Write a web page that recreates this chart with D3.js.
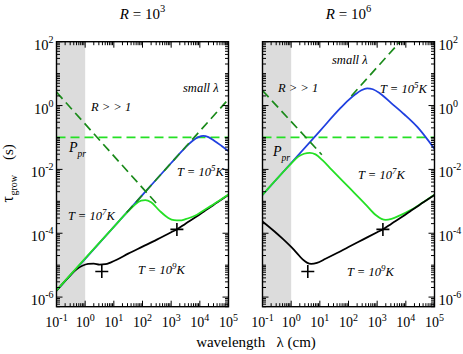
<!DOCTYPE html>
<html><head><meta charset="utf-8">
<script src="https://cdn.jsdelivr.net/npm/d3@7"></script>
<style>
body{margin:0;background:#fff}
svg{display:block}
text{font-family:"Liberation Serif","Times New Roman",serif;fill:#000}
</style>
</head><body>
<svg id="c" width="463" height="354" font-family="Liberation Serif, serif"></svg>
<script>
// ---------- data (log10 values) ----------
const xDomain = [0.1, 1e5];
const yDomain = [5e-7, 100];
const xTickExp = [-1, 0, 1, 2, 3, 4, 5];
const yTickExp = [-6, -4, -2, 0, 2];
const rExponents = ["3", "6"];
const pprTau = 0.1;
const shadeRange = [0.1, 1];

// R = 10^3 panel
const L_T5_logLam = [-1, 0, 1, 2, 3, 3.5, 3.75, 3.95, 4.12, 4.3, 4.5, 4.75, 5];
const L_T5_logTau = [-5.8, -4.8, -3.8, -2.8, -1.8, -1.31, -1.1, -0.99, -0.95, -0.99, -1.1, -1.26, -1.43];
const L_T7_logLam = [-1, 0, 1, 1.5, 1.75, 1.95, 2.1, 2.3, 2.6, 2.9, 3.1, 3.3, 3.5, 3.7, 3.9, 4.2, 4.6, 5];
const L_T7_logTau = [-5.79, -4.79, -3.8, -3.31, -3.09, -2.98, -2.96, -3.03, -3.3, -3.52, -3.59, -3.6, -3.56, -3.5, -3.42, -3.25, -3.02, -2.78];
const L_T9_logLam = [-1, -0.6, -0.3, -0.1, 0.1, 0.3, 0.5, 0.7, 0.9, 1.1, 1.5, 2, 2.5, 3, 3.2, 3.5, 3.9, 4.2, 4.6, 5];
const L_T9_logTau = [-5.8, -5.4, -5.13, -5.02, -4.96, -4.95, -4.98, -4.97, -4.91, -4.83, -4.64, -4.42, -4.2, -3.97, -3.88, -3.7, -3.47, -3.28, -3.04, -2.8];
const L_Rbig_logLam = [-1, 2.54];
const L_Rbig_logTau = [0.42, -3.12];
const L_small_logLam = [1.45, 5];
const L_small_logTau = [-3.35, 0.2];

// R = 10^6 panel
const R_T5_logLam = [-1, 0, 1, 1.7, 2.0, 2.25, 2.45, 2.65, 2.85, 3.1, 3.5, 3.95, 4.4, 5];
const R_T5_logTau = [-2.8, -1.8, -0.8, -0.1, 0.17, 0.36, 0.48, 0.54, 0.51, 0.38, 0.07, -0.28, -0.67, -1.36];
const R_T7_logLam = [-1, -0.5, 0, 0.25, 0.45, 0.65, 0.85, 1.1, 1.4, 2, 2.6, 2.95, 3.15, 3.3, 3.5, 3.8, 4.2, 4.6, 5];
const R_T7_logTau = [-2.8, -2.3, -1.82, -1.6, -1.51, -1.48, -1.53, -1.72, -2.0, -2.55, -3.1, -3.43, -3.55, -3.58, -3.55, -3.44, -3.26, -3.03, -2.79];
const R_T9_logLam = [-1, -0.6, -0.3, 0, 0.2, 0.4, 0.55, 0.7, 0.9, 1.2, 1.6, 2, 2.5, 3, 3.2, 3.5, 3.9, 4.2, 4.6, 5];
const R_T9_logTau = [-3.63, -3.93, -4.17, -4.43, -4.62, -4.82, -4.92, -4.96, -4.93, -4.8, -4.62, -4.43, -4.2, -3.97, -3.88, -3.7, -3.47, -3.28, -3.04, -2.8];
const R_Rbig_logLam = [-1, 1.07];
const R_Rbig_logTau = [0.47, -1.54];
const R_small_logLam = [2.1, 3.9];
const R_small_logTau = [0.3, 2.1];

// "+" markers (same in both panels)
const mark_logLam = [0.58, 3.2];
const mark_logTau = [-5.2, -3.88];

// ---------- drawing ----------
const C = {blue:"#2040e0", green:"#25e025", dark:"#1a8a1a", light:"#25e025", shade:"#dcdcdc"};
const svg = d3.select("#c");
const yTop = 41.7, yBot = 306.7;

function pts(la, ta){ return la.map((v,i)=>[10**v, 10**ta[i]]); }

function drawPanel(cfg){
  const x = d3.scaleLog().domain(xDomain).range([cfg.x0, cfg.x1]);
  const y = d3.scaleLog().domain(yDomain).range([yBot, yTop]);
  const g = svg.append("g");
  const cid = "clip"+cfg.id;
  svg.append("clipPath").attr("id",cid).append("rect")
    .attr("x",cfg.x0).attr("y",yTop).attr("width",cfg.x1-cfg.x0).attr("height",yBot-yTop);
  const pg = g.append("g").attr("clip-path",`url(#${cid})`);
  pg.append("rect").attr("x",x(shadeRange[0])).attr("y",yTop)
    .attr("width",x(shadeRange[1])-x(shadeRange[0])).attr("height",yBot-yTop).attr("fill",C.shade);
  const line = d3.line().x(d=>x(d[0])).y(d=>y(d[1])).curve(d3.curveMonotoneX);
  const straight = d3.line().x(d=>x(d[0])).y(d=>y(d[1]));
  pg.append("path").attr("d",straight([[xDomain[0],pprTau],[xDomain[1],pprTau]]))
    .attr("stroke",C.light).attr("stroke-width",1.7).attr("fill","none").attr("stroke-dasharray","9,5");
  cfg.curves.forEach(c=>{
    pg.append("path").attr("d",line(pts(c.lam,c.tau))).attr("stroke",c.color)
      .attr("stroke-width",1.8).attr("fill","none");
  });
  cfg.dashes.forEach(c=>{
    pg.append("path").attr("d",straight(pts(c.lam,c.tau))).attr("stroke",C.dark)
      .attr("stroke-width",1.7).attr("fill","none").attr("stroke-dasharray","9,5");
  });
  pts(mark_logLam, mark_logTau).forEach(p=>{
    const cx=x(p[0]), cy=y(p[1]), s=6.5;
    g.append("path").attr("d",`M${cx-s},${cy}H${cx+s}M${cx},${cy-s}V${cy+s}`)
      .attr("stroke","#000").attr("stroke-width",1.6);
  });
  const majX = xTickExp.map(e=>10**e);
  const minX = [];
  for(let e=-1;e<5;e++) for(let k=2;k<=9;k++) minX.push(k*10**e);
  const majY = yTickExp.map(e=>10**e);
  const minY = [];
  for(let e=-7;e<2;e++){ for(let k=2;k<=9;k++){const v=k*10**e; if(v>=yDomain[0]&&v<=yDomain[1]) minY.push(v);} }
  [-5,-3,-1,1].forEach(e=>minY.push(10**e));
  const tk = g.append("g").attr("stroke","#000").attr("stroke-width",1);
  const M=6, m=3.5;
  majX.forEach(v=>{const xx=x(v); tk.append("path").attr("d",`M${xx},${yBot}v${-M}M${xx},${yTop}v${M}`);});
  minX.forEach(v=>{const xx=x(v); tk.append("path").attr("d",`M${xx},${yBot}v${-m}M${xx},${yTop}v${m}`);});
  majY.forEach(v=>{const yy=y(v); tk.append("path").attr("d",`M${cfg.x0},${yy}h${M}M${cfg.x1},${yy}h${-M}`);});
  minY.forEach(v=>{const yy=y(v); tk.append("path").attr("d",`M${cfg.x0},${yy}h${m}M${cfg.x1},${yy}h${-m}`);});
  g.append("rect").attr("x",cfg.x0).attr("y",yTop).attr("width",cfg.x1-cfg.x0).attr("height",yBot-yTop)
    .attr("fill","none").attr("stroke","#000").attr("stroke-width",1.4);
  xTickExp.forEach(e=>{
    const t=g.append("text").attr("x",x(10**e)).attr("y",326.5).attr("text-anchor","middle").attr("font-size",14);
    t.append("tspan").text("10");
    t.append("tspan").attr("dy",-6).attr("font-size",10).text(String(e));
  });
  yTickExp.forEach(e=>{
    const left = cfg.ySide==="left";
    const t=g.append("text").attr("x",left?cfg.x0-3:cfg.x1+4).attr("y",y(10**e)+8)
      .attr("text-anchor",left?"end":"start").attr("font-size",14.5);
    t.append("tspan").text("10");
    t.append("tspan").attr("dy",-7).attr("font-size",10).text(String(e));
  });
  const tt = g.append("text").attr("x",(cfg.x0+cfg.x1)/2).attr("y",19).attr("text-anchor","middle").attr("font-size",15);
  tt.append("tspan").attr("font-style","italic").text("R");
  tt.append("tspan").text(" = 10");
  tt.append("tspan").attr("dy",-7).attr("font-size",10.5).text(cfg.rexp);
  cfg.labels.forEach(l=>{
    const t=g.append("text").attr("x",l.x).attr("y",l.y).attr("font-size",12.5).attr("font-style","italic");
    if(l.type==="T"){
      t.append("tspan").text("T = 10");
      t.append("tspan").attr("dy",-5).attr("font-size",9).text(l.e);
      t.append("tspan").attr("dy",5).text("K");
    } else if(l.type==="P"){
      t.append("tspan").attr("font-size",14).text("P");
      t.append("tspan").attr("dy",5).attr("font-size",9.5).text("pr");
    } else {
      t.text(l.text);
    }
  });
}

drawPanel({id:"L", x0:56.5, x1:228.5, ySide:"left", rexp:rExponents[0],
  curves:[{lam:L_T5_logLam,tau:L_T5_logTau,color:C.blue},
          {lam:L_T9_logLam,tau:L_T9_logTau,color:"#000"},
          {lam:L_T7_logLam,tau:L_T7_logTau,color:C.green}],
  dashes:[{lam:L_Rbig_logLam,tau:L_Rbig_logTau},{lam:L_small_logLam,tau:L_small_logTau}],
  labels:[{text:"small λ",x:183,y:92},{text:"R > > 1",x:91,y:111},{type:"P",x:69,y:152},
          {type:"T",e:"5",x:177,y:176},{type:"T",e:"7",x:68,y:220},{type:"T",e:"9",x:138,y:274}]
});
drawPanel({id:"R", x0:262.5, x1:434.5, ySide:"right", rexp:rExponents[1],
  curves:[{lam:R_T5_logLam,tau:R_T5_logTau,color:C.blue},
          {lam:R_T7_logLam,tau:R_T7_logTau,color:C.green},
          {lam:R_T9_logLam,tau:R_T9_logTau,color:"#000"}],
  dashes:[{lam:R_Rbig_logLam,tau:R_Rbig_logTau},{lam:R_small_logLam,tau:R_small_logTau}],
  labels:[{text:"small λ",x:332,y:64},{text:"R > > 1",x:278,y:92},{type:"P",x:273,y:156},
          {type:"T",e:"5",x:380,y:93},{type:"T",e:"7",x:358,y:179},{type:"T",e:"9",x:347,y:276}]
});

svg.append("text").attr("x",256).attr("y",347).attr("text-anchor","middle")
  .attr("font-size",15).style("white-space","pre").text("wavelength   λ (cm)");
const yl = svg.append("text").attr("transform","translate(13,202.5) rotate(-90)").attr("font-size",15);
yl.append("tspan").attr("font-size",16).text("τ");
yl.append("tspan").attr("dy",4).attr("dx",0.5).attr("font-size",10).text("grow");
yl.append("tspan").attr("dy",-4).attr("dx",15).text("(s)");
</script>
</body></html>
